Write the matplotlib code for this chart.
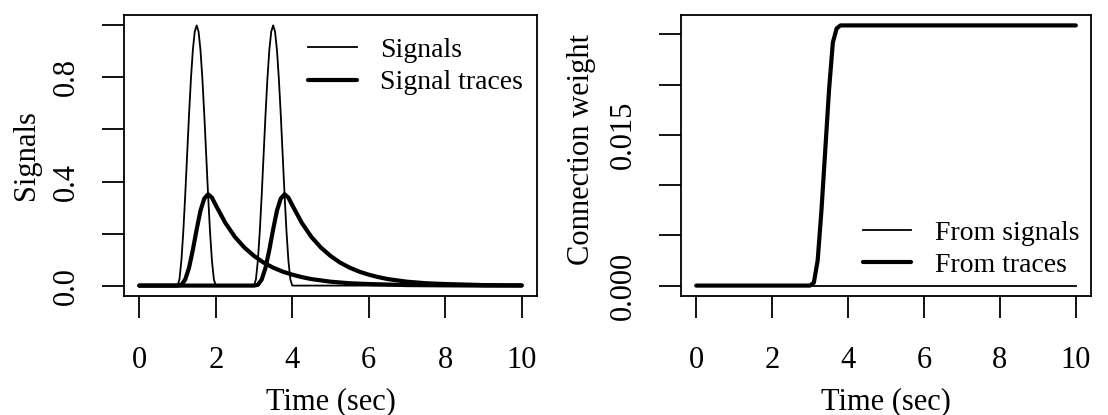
import matplotlib
matplotlib.use("Agg")
import matplotlib.pyplot as plt

plt.rcParams['font.family'] = ['Liberation Serif', 'DejaVu Serif']

# signals: thin line with two bumps (1-2 s and 3-4 s)
sig_time = [0.0,
            1.00, 1.05, 1.10, 1.15, 1.20, 1.25, 1.30, 1.35, 1.40, 1.45, 1.50,
            1.55, 1.60, 1.65, 1.70, 1.75, 1.80, 1.85, 1.90, 1.95, 2.00,
            3.00, 3.05, 3.10, 3.15, 3.20, 3.25, 3.30, 3.35, 3.40, 3.45, 3.50,
            3.55, 3.60, 3.65, 3.70, 3.75, 3.80, 3.85, 3.90, 3.95, 4.00,
            10.0]
signals = [0.0,
           0, .024, .095, .206, .345, .5, .655, .794, .905, .976, 1.0,
           .976, .905, .794, .655, .5, .345, .206, .095, .024, 0,
           0, .024, .095, .206, .345, .5, .655, .794, .905, .976, 1.0,
           .976, .905, .794, .655, .5, .345, .206, .095, .024, 0,
           0.0]

# signal traces (thick lines)
trace1_time = [0.0, 1.0, 1.1, 1.2, 1.3, 1.4, 1.5, 1.6, 1.7, 1.8, 1.9, 2.0,
               2.25, 2.5, 2.75, 3.0, 3.25, 3.5, 3.75, 4.0,
               4.25, 4.5, 4.75, 5.0, 5.5, 6.0, 7.0, 8.0, 9.0, 10.0]
trace1 = [0.0, 0.0, .003, .023, .068, .137, .216, .288, .335, .351, .338, .309,
          .241, .187, .146, .114, .0885, .069, .0537, .042,
          .0326, .025, .020, .015, .009, .006, .002, .001, 0.0, 0.0]

trace2_time = [0.0, 3.0, 3.1, 3.2, 3.3, 3.4, 3.5, 3.6, 3.7, 3.8, 3.9, 4.0,
               4.25, 4.5, 4.75, 5.0, 5.25, 5.5, 5.75, 6.0,
               6.25, 6.5, 6.75, 7.0, 7.5, 8.0, 9.0, 10.0]
trace2 = [0.0, 0.0, .003, .023, .068, .137, .216, .288, .335, .351, .338, .309,
          .241, .187, .146, .114, .0885, .069, .0537, .042,
          .0326, .025, .020, .015, .009, .006, .002, .001]

# connection weights
w_sig_time = [0.0, 10.0]
w_signals = [0.0, 0.0]
w_tr_time = [0.0, 3.0, 3.1, 3.2, 3.3, 3.4, 3.5, 3.6, 3.7, 3.8, 10.0]
w_traces = [0.0, 0.0, 0.0003, 0.0025, 0.0075, 0.0135, 0.0195, 0.0242, 0.0256, 0.0259, 0.0259]

x_ticks = [0, 2, 4, 6, 8, 10]
left_yticks = [0.0, 0.2, 0.4, 0.6, 0.8, 1.0]
left_ylabels = ['0.0', '', '0.4', '', '0.8', '']
right_yticks = [0.0, 0.005, 0.010, 0.015, 0.020, 0.025]
right_ylabels = ['0.000', '', '', '0.015', '', '']

FS = 22
THIN, THICK = 1.3, 3.0

fig = plt.figure(figsize=(11.08, 4.15), dpi=100)
ax1 = fig.add_axes([124 / 1108, 1 - 296 / 415, 413 / 1108, 281 / 415])
ax2 = fig.add_axes([681 / 1108, 1 - 296 / 415, 410 / 1108, 281 / 415])


def style(ax, yticks, ylabels, ylabel):
    ax.set_xlim(-0.4, 10.4)
    ax.set_xticks(x_ticks)
    ax.set_xticklabels([str(v) for v in x_ticks], fontsize=FS)
    ax.set_yticks(yticks)
    ax.set_yticklabels(ylabels, fontsize=FS, rotation=90, va='center')
    ax.tick_params(axis='both', direction='out', length=15.8, width=1.3, color='black')
    ax.tick_params(axis='x', pad=20)
    ax.tick_params(axis='y', pad=15)
    for s in ax.spines.values():
        s.set_linewidth(1.3)
    ax.set_xlabel('Time (sec)', fontsize=FS)
    ax.set_ylabel(ylabel, fontsize=FS)
    ax.xaxis.set_label_coords(0.5, -0.325)


# left panel
ax1.plot(sig_time, signals, color='black', lw=THIN, label='Signals')
ax1.plot(trace1_time, trace1, color='black', lw=THICK, solid_capstyle='round',
         label='Signal traces')
ax1.plot(trace2_time, trace2, color='black', lw=THICK, solid_capstyle='round')
ax1.set_ylim(-0.04, 1.04)
style(ax1, left_yticks, left_ylabels, 'Signals')
ax1.yaxis.set_label_coords(-0.20, 0.5)
ax1.legend(loc='upper left', bbox_to_anchor=(0.4455, 0.92), frameon=False,
           fontsize=20, handlelength=1.75, handletextpad=0.85, labelspacing=0.25,
           borderpad=0, borderaxespad=0)

# right panel
wmax = max(w_traces)
ax2.plot(w_sig_time, w_signals, color='black', lw=THIN, label='From signals')
ax2.plot(w_tr_time, w_traces, color='black', lw=THICK, solid_capstyle='round',
         label='From traces')
ax2.set_ylim(-0.04 * wmax, 1.04 * wmax)
style(ax2, right_yticks, right_ylabels, 'Connection weight')
ax2.yaxis.set_label_coords(-0.207, 0.52)
ax2.legend(loc='lower left', bbox_to_anchor=(0.443, 0.064), frameon=False,
           fontsize=20, handlelength=1.75, handletextpad=0.85, labelspacing=0.25,
           borderpad=0, borderaxespad=0)

fig.savefig('out.png', dpi=100)
